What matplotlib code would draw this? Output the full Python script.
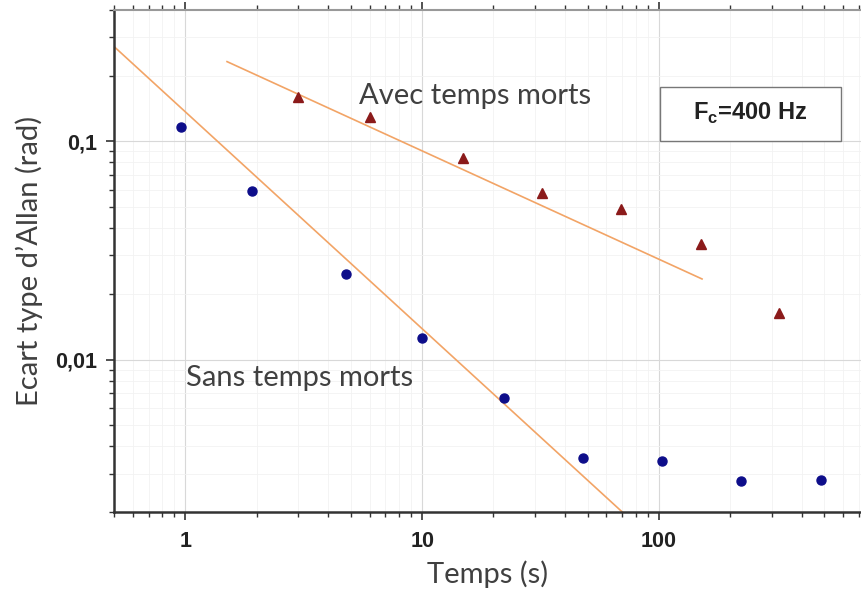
import matplotlib.pyplot as plt
from matplotlib.patches import Rectangle
from matplotlib.ticker import LogLocator, FixedLocator, NullFormatter

# Données (écart type d'Allan)
t_sans = [0.96, 1.92, 4.78, 10.0, 22.2, 47.8, 103, 222, 483]
sig_sans = [0.116, 0.059, 0.0247, 0.0125, 0.00664, 0.00353, 0.00342, 0.00277, 0.0028]

t_avec = [3.0, 6.04, 14.9, 32.1, 69.2, 150, 321]
sig_avec = [0.160, 0.129, 0.0836, 0.058, 0.049, 0.0339, 0.0164]

# droites de pente (extrémités)
fit_sans_t = [0.5, 70]
fit_sans_s = [0.272, 0.002]
fit_avec_t = [1.5, 152]
fit_avec_s = [0.232, 0.0234]

xticks = [1, 10, 100]
xtick_labels = ['1', '10', '100']
yticks = [0.01, 0.1]
ytick_labels = ['0,01', '0,1']

txt_font = 'Lato'
orange = '#f2a466'

fig = plt.figure(figsize=(8.62, 5.92), dpi=100)
ax = fig.add_axes([0.1323, 0.1351, 0.8677, 0.8480])

ax.set_xscale('log')
ax.set_yscale('log')
ax.set_xlim(0.5, 720)
ax.set_ylim(0.002, 0.4)

ax.grid(True, which='major', color='#d8d8d8', linewidth=0.8)
ax.grid(True, which='minor', color='#f2f2f2', linewidth=0.6)
ax.set_axisbelow(True)

ax.plot(fit_sans_t, fit_sans_s, color=orange, linewidth=1.2, zorder=2)
ax.plot(fit_avec_t, fit_avec_s, color=orange, linewidth=1.2, zorder=2)

ax.plot(t_sans, sig_sans, 'o', color='#0d0d8a', markersize=6.5, zorder=3)
ax.plot(t_avec, sig_avec, '^', color='#8b1a1a', markersize=6.5, zorder=3)

ax.text(16.7, 0.162, 'Avec temps morts', fontsize=21, color='#404040',
        ha='center', va='center', family=txt_font)
ax.text(3.03, 0.0082, 'Sans temps morts', fontsize=21, color='#404040',
        ha='center', va='center', family=txt_font)

# cadre F_c
ax.add_patch(Rectangle((0.730, 0.739), 0.242, 0.108, transform=ax.transAxes,
                       facecolor='white', edgecolor='#777777', linewidth=1, zorder=4))
ax.text(0.850, 0.795, r'F$_\mathregular{c}$=400 Hz', transform=ax.transAxes,
        fontsize=17, fontweight='bold', family='Liberation Sans', color='#222222',
        ha='center', va='center', zorder=5)

ax.xaxis.set_major_locator(FixedLocator(xticks))
ax.set_xticklabels(xtick_labels)
ax.yaxis.set_major_locator(FixedLocator(yticks))
ax.set_yticklabels(ytick_labels)
ax.xaxis.set_minor_locator(LogLocator(base=10, subs=range(2, 10)))
ax.yaxis.set_minor_locator(LogLocator(base=10, subs=range(2, 10)))
ax.xaxis.set_minor_formatter(NullFormatter())
ax.yaxis.set_minor_formatter(NullFormatter())

for lab in ax.get_xticklabels() + ax.get_yticklabels():
    lab.set_fontweight('bold')
    lab.set_family('Liberation Sans')
    lab.set_fontsize(15.5)
    lab.set_color('#222222')

ax.tick_params(which='major', direction='out', length=6, width=1.2, color='#333333')
ax.tick_params(axis='x', which='major', pad=8)
ax.tick_params(axis='y', which='major', pad=6)
ax.tick_params(which='minor', direction='out', length=3.5, width=1.0, color='#333333')
ax.tick_params(which='both', top=True, right=False)

for side in ['left', 'bottom']:
    ax.spines[side].set_linewidth(1.8)
    ax.spines[side].set_color('#333333')
ax.spines['top'].set_color('#999999')
ax.spines['top'].set_linewidth(1.5)
ax.spines['right'].set_visible(False)

ax.set_xlabel('Temps (s)', fontsize=21, color='#404040', family=txt_font, labelpad=6)
ax.set_ylabel("Ecart type d\u2019Allan (rad)", fontsize=21, color='#404040', family=txt_font, labelpad=9)

fig.savefig('out.png', dpi=100, facecolor='white')
